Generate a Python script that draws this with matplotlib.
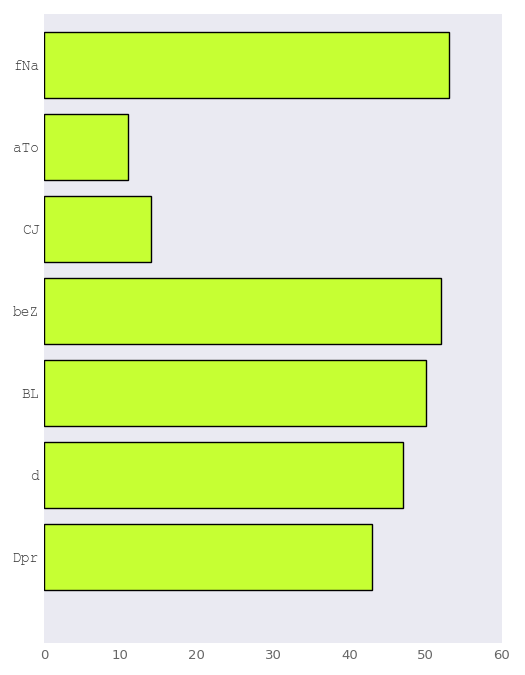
import matplotlib
matplotlib.use('Agg')
import matplotlib.pyplot as plt
import logging

logging.getLogger('matplotlib.font_manager').setLevel(logging.ERROR)

# --- data ---
categories = ['Dpr', 'd', 'BL', 'beZ', 'CJ', 'aTo', 'fNa']
values = [43, 47, 50, 52, 14, 11, 53]
xticks = [0, 10, 20, 30, 40, 50, 60]

mono = ['Courier New', 'Nimbus Mono PS', 'FreeMono', 'Liberation Mono']

fig = plt.figure(figsize=(5.25, 6.75), dpi=100)
ax = fig.add_axes([44 / 525, 1 - 643 / 675, 458 / 525, 629 / 675])
ax.set_facecolor('#EAEAF2')

pos = list(range(len(categories)))
ax.barh(pos, values, height=0.8, color='#C6FF33', edgecolor='black', linewidth=1)

ax.set_yticks(pos)
ax.set_yticklabels(categories, family=mono, fontsize=10.5, color='#333333')
ax.set_xticks(xticks)
ax.set_xticklabels([str(t) for t in xticks], family='DejaVu Sans', fontsize=9.5, color='#666666')
ax.set_xlim(0, 60)
ax.set_ylim(-1.05, 6.62)

ax.tick_params(axis='y', length=0, pad=3.5)
ax.tick_params(axis='x', length=0, pad=4)
for s in ax.spines.values():
    s.set_visible(False)

fig.savefig('out.png', dpi=100)
